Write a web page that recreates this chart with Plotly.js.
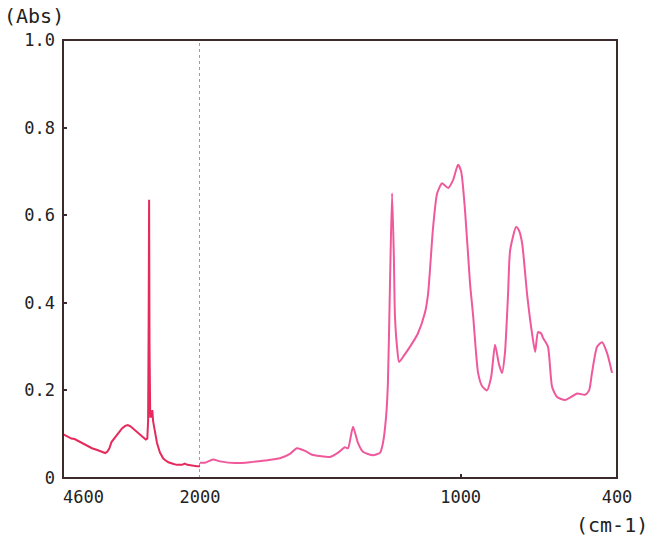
<!DOCTYPE html>
<html>
<head>
<meta charset="utf-8">
<script src="https://cdn.plot.ly/plotly-3.0.1.min.js"></script>
<style>html,body{margin:0;padding:0;background:#fff;}#chart{width:650px;height:540px;}</style>
</head>
<body>
<div id="chart"></div>
<script>
// High-wavenumber region (4600-2000 cm-1, compressed scale)
const wnHigh = [4600,4520,4440,4380,4330,4250,4150,4050,3950,3870,3800,3760,3720,3680,3640,3600,3540,3480,3420,3370,3320,3260,3200,3140,3080,3030,3000,2985,2975,2966,2958,2945,2920,2905,2890,2870,2840,2816,2760,2700,2664,2600,2500,2436,2340,2290,2240,2150,2060,2000];
const absHigh = [0.100,0.095,0.090,0.089,0.086,0.080,0.074,0.068,0.064,0.060,0.057,0.060,0.068,0.082,0.088,0.094,0.104,0.113,0.119,0.121,0.118,0.112,0.105,0.098,0.092,0.088,0.090,0.130,0.350,0.635,0.300,0.140,0.140,0.155,0.130,0.115,0.095,0.080,0.058,0.045,0.041,0.036,0.032,0.030,0.030,0.033,0.030,0.028,0.027,0.027];

// Low-wavenumber region (2000-400 cm-1, expanded scale)
const wnLow = [2000,1981,1950,1923,1866,1808,1751,1693,1655,1628,1597,1570,1540,1501,1470,1444,1432,1413,1394,1375,1336,1309,1298,1286,1279,1271,1263,1256,1252,1244,1236,1217,1194,1164,1137,1125,1117,1106,1090,1071,1048,1029,1010,998,983,964,952,933,918,899,883,868,853,841,830,818,810,787,776,764,745,726,714,703,691,684,665,649,630,599,576,553,523,507,496,476,457,438,419];
const absLow = [0.035,0.035,0.042,0.038,0.034,0.036,0.040,0.045,0.055,0.068,0.062,0.053,0.050,0.048,0.058,0.070,0.068,0.117,0.080,0.060,0.052,0.058,0.080,0.140,0.216,0.445,0.650,0.500,0.370,0.300,0.265,0.280,0.300,0.330,0.377,0.420,0.480,0.570,0.650,0.673,0.662,0.680,0.715,0.700,0.610,0.445,0.370,0.240,0.210,0.200,0.230,0.304,0.260,0.240,0.285,0.420,0.520,0.573,0.565,0.536,0.420,0.330,0.288,0.333,0.330,0.320,0.300,0.208,0.185,0.178,0.185,0.193,0.190,0.200,0.240,0.300,0.310,0.285,0.240];

const yTickVals = [0,0.2,0.4,0.6,0.8,1.0];
const yTickText = ['0','0.2','0.4','0.6','0.8','1.0'];
const xTickValsHigh = [4600,2000];
const xTickTextHigh = ['\u2002\u2002\u2002\u20094600','2000'];
const xTickValsLow = [1000,400];
const xTickTextLow = ['1000','400'];

const monoFam = '"DejaVu Sans Mono", "Liberation Mono", monospace';
const splitFrac = 137/554;

const traces = [
  {x: wnHigh, y: absHigh, xaxis: 'x', yaxis: 'y', type: 'scatter', mode: 'lines',
   line: {color: '#e62a5c', width: 2}, hoverinfo: 'skip'},
  {x: wnLow, y: absLow, xaxis: 'x2', yaxis: 'y', type: 'scatter', mode: 'lines',
   line: {color: '#f0589c', width: 2, shape: 'spline', smoothing: 0.6}, hoverinfo: 'skip'}
];

const axisCommon = {
  showgrid: false, zeroline: false, showline: false,
  ticks: 'inside', ticklen: 4, tickwidth: 2, tickcolor: '#3b2b2b',
  tickfont: {family: monoFam, size: 17, color: '#222'}
};

const layout = {
  width: 650, height: 540,
  margin: {l: 63, r: 33, t: 40, b: 62},
  paper_bgcolor: '#fff', plot_bgcolor: '#fff',
  showlegend: false,
  xaxis: Object.assign({}, axisCommon, {
    domain: [0, splitFrac], range: [4600, 2000], anchor: 'y',
    tickmode: 'array', tickvals: xTickValsHigh, ticktext: xTickTextHigh,
    ticklabelstandoff: 7
  }),
  xaxis2: Object.assign({}, axisCommon, {
    domain: [splitFrac, 1], range: [2000, 400], anchor: 'y',
    tickmode: 'array', tickvals: xTickValsLow, ticktext: xTickTextLow,
    ticklabelstandoff: 7
  }),
  yaxis: Object.assign({}, axisCommon, {
    domain: [0, 1], range: [0, 1], anchor: 'x',
    tickmode: 'array', tickvals: yTickVals, ticktext: yTickText,
    ticklabelstandoff: 7
  }),
  shapes: [
    {type: 'rect', xref: 'paper', yref: 'paper', x0: 0, x1: 1, y0: 0, y1: 1,
     line: {color: '#3b2b2b', width: 2}, layer: 'above'},
    {type: 'line', xref: 'x', yref: 'paper', x0: 2000, x1: 2000, y0: 0, y1: 1,
     line: {color: '#8a7a70', width: 1.5, dash: 'dot'}, layer: 'below'}
  ],
  annotations: [
    {text: '(Abs)', xref: 'paper', yref: 'paper', x: -0.11, y: 1.055,
     xanchor: 'left', yanchor: 'middle', showarrow: false,
     font: {family: monoFam, size: 20, color: '#222'}},
    {text: '(cm-1)', xref: 'paper', yref: 'paper', x: 1.06, y: -0.108,
     xanchor: 'right', yanchor: 'middle', showarrow: false,
     font: {family: monoFam, size: 20, color: '#222'}}
  ]
};

Plotly.newPlot('chart', traces, layout, {displayModeBar: false, staticPlot: true});
</script>
</body>
</html>
